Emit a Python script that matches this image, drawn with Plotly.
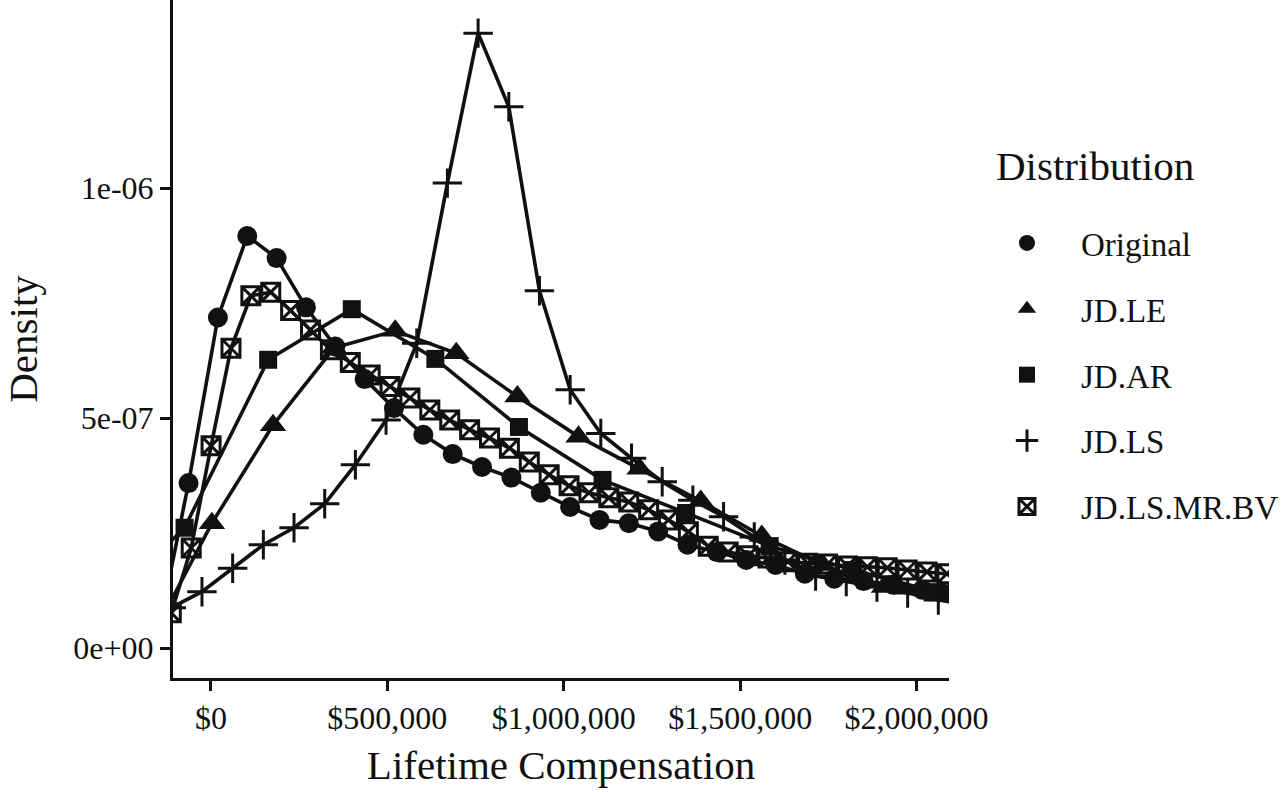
import plotly.graph_objects as go

# densities are stored in units of 1e-7
SCALE = 1e-7

orig_x = [-146600, -63400, 19800, 103000, 186200, 269400, 352600, 435700, 518900,
          602100, 685300, 768500, 851700, 934900, 1018100, 1101300, 1184500,
          1267700, 1350900, 1434100, 1517300, 1600400, 1683600, 1766800,
          1850000, 1933200, 2016400, 2099600]
orig_y = [0.44, 3.59, 7.19, 8.96, 8.48, 7.41, 6.56, 5.85, 5.22, 4.64, 4.22, 3.94,
          3.71, 3.38, 3.07, 2.79, 2.72, 2.54, 2.25, 2.09, 1.92, 1.81, 1.62, 1.51,
          1.46, 1.38, 1.27, 1.20]

le_x = [-170300, 2800, 176000, 349200, 522300, 695500, 868700, 1041900,
        1215000, 1388200, 1561400, 1734500, 1907700, 2080900, 2254000]
le_y = [0.2, 2.72, 4.85, 6.53, 6.90, 6.41, 5.47, 4.60, 3.90, 3.20, 2.44, 1.81,
        1.33, 1.16, 1.0]

ar_x = [-311600, -74700, 162200, 399200, 636100, 873000, 1110000, 1346900,
        1583800, 1820800, 2057700, 2294600]
ar_y = [0.8, 2.62, 6.27, 7.37, 6.29, 4.81, 3.66, 2.94, 2.22, 1.70, 1.22, 0.9]

ls_x = [-112300, -25400, 61600, 148600, 235500, 322500, 409500, 496400, 583400,
        670300, 757300, 844300, 931200, 1018200, 1105100, 1192100, 1279100,
        1366000, 1453000, 1540000, 1626900, 1713900, 1800800, 1887800, 1974800,
        2061700, 2148700]
ls_y = [0.88, 1.23, 1.74, 2.25, 2.62, 3.14, 3.99, 4.96, 6.63, 10.11, 13.37,
        11.77, 7.77, 5.62, 4.67, 4.13, 3.62, 3.22, 2.86, 2.42, 1.92, 1.57, 1.45,
        1.33, 1.20, 1.05, 0.95]

bv_x = [-112300, -55900, 440, 56800, 113200, 169600, 225900, 282300, 338700,
        395000, 451400, 507800, 564100, 620500, 676900, 733300, 789600, 846000,
        902400, 958700, 1015100, 1071500, 1127800, 1184200, 1240600, 1296900,
        1353300, 1409700, 1466100, 1522400, 1578800, 1635200, 1691500, 1747900,
        1804300, 1860600, 1917000, 1973400, 2029700, 2086100, 2142500]
bv_y = [0.77, 2.18, 4.40, 6.52, 7.66, 7.74, 7.34, 6.92, 6.49, 6.21, 5.94, 5.69,
        5.44, 5.18, 4.96, 4.75, 4.57, 4.35, 4.05, 3.77, 3.53, 3.38, 3.27, 3.18,
        3.01, 2.79, 2.53, 2.22, 2.09, 2.01, 1.96, 1.88, 1.85, 1.83, 1.79, 1.77,
        1.75, 1.70, 1.66, 1.62, 1.57]

x_tickvals = [0, 500000, 1000000, 1500000, 2000000]
x_ticktext = ['$0', '$500,000', '$1,000,000', '$1,500,000', '$2,000,000']
y_tickvals = [0, 5e-7, 1e-6]
y_ticktext = ['0e+00', '5e-07', '1e-06']

FONT = 'Liberation Serif'
INK = '#111111'

series = [
    ('Original', orig_x, orig_y, 'circle', 20, 0),
    ('JD.LE', le_x, le_y, 'triangle-up', 23, 0),
    ('JD.AR', ar_x, ar_y, 'square', 18, 0),
    ('JD.LS', ls_x, ls_y, 'cross-thin', 21, 3),
    ('JD.LS.MR.BV', bv_x, bv_y, 'square-x-open', 18, 3),
]

fig = go.Figure()

# lines first (no legend), then markers with legend
for name, xs, ys, sym, size, lw in series:
    fig.add_trace(go.Scatter(
        x=xs, y=[v * SCALE for v in ys], mode='lines',
        line=dict(color=INK, width=3.6), showlegend=False, hoverinfo='skip'))

for name, xs, ys, sym, size, lw in series:
    fig.add_trace(go.Scatter(
        x=xs, y=[v * SCALE for v in ys], mode='markers', name=name,
        legendgroup=name,
        marker=dict(symbol=sym, size=size, color=INK,
                    line=dict(color=INK, width=lw))))

fig.update_layout(
    width=1284, height=792,
    margin=dict(l=173, r=334, t=0, b=114),
    plot_bgcolor='white', paper_bgcolor='white',
    font=dict(family=FONT, color=INK),
    legend=dict(
        x=1.031, y=0.683, xanchor='left', yanchor='top',
        font=dict(size=33, family=FONT),
        tracegroupgap=20, itemwidth=98,
    ),
    annotations=[dict(
        text='Distribution', xref='paper', yref='paper',
        x=1.058, y=0.755, xanchor='left', yanchor='middle',
        showarrow=False, font=dict(size=41, family=FONT, color=INK),
    )],
)

fig.update_xaxes(
    range=[-107500, 2092000], showgrid=False, zeroline=False,
    showline=True, linecolor=INK, linewidth=3,
    ticks='outside', ticklen=10, tickwidth=3, tickcolor=INK,
    tickvals=x_tickvals, ticktext=x_ticktext,
    tickfont=dict(size=32, family=FONT, color=INK),
    title=dict(text='Lifetime Compensation', font=dict(size=41, family=FONT)),
)
fig.update_yaxes(
    range=[-0.646e-7, 14.09e-7], showgrid=False, zeroline=False,
    showline=True, linecolor=INK, linewidth=3,
    ticks='outside', ticklen=10, tickwidth=3, tickcolor=INK,
    tickvals=y_tickvals, ticktext=y_ticktext,
    tickfont=dict(size=32, family=FONT, color=INK),
    title=dict(text='Density', font=dict(size=41, family=FONT), standoff=30),
)

fig.write_html("out.html", config={'displayModeBar': False},
               post_script="document.body.style.margin='0px';")
